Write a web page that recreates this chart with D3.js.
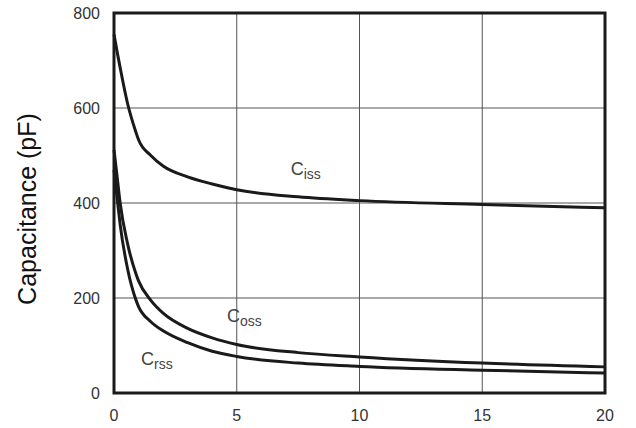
<!DOCTYPE html>
<html>
<head>
<meta charset="utf-8">
<script src="https://cdn.jsdelivr.net/npm/d3@7"></script>
<style>
body { margin: 0; background: #fff; }
text { font-family: "Liberation Sans", Arial, sans-serif; }
</style>
</head>
<body>
<script>
var vdsTicks = [0, 5, 10, 15, 20],
	capTicks = [0, 200, 400, 600, 800];

var vds = [0, 0.15, 0.25, 0.55, 0.9, 1, 1.5, 2, 3, 4, 5, 7.5, 10, 15, 20];
var ciss = [755, 712, 685, 610, 548, 533, 500, 478, 455, 440, 428, 413, 405, 397, 390];
var coss = [512, 445, 400, 315, 250, 236, 195, 168, 136, 116, 102, 85, 76, 63, 55];
var crss = [470, 400, 355, 262, 195, 182, 150, 131, 106, 88, 77, 63, 56, 48, 42];

var labels = [
	{ main: 'C', sub: 'iss', x: 7.2, y: 458 },
	{ main: 'C', sub: 'oss', x: 4.6, y: 150 },
	{ main: 'C', sub: 'rss', x: 1.1, y: 58 }
];

var W = 636, H = 428,
	plotL = 114, plotR = 605, plotT = 13, plotB = 393;

var svg = d3.select('body').append('svg').attr('width', W).attr('height', H);

var x = d3.scaleLinear().domain([0, 20]).range([plotL, plotR]),
	y = d3.scaleLinear().domain([0, 800]).range([plotB, plotT]);

// grid
svg.append('g').selectAll('line').data(vdsTicks.slice(1, -1)).enter().append('line')
	.attr('x1', function(d) { return x(d); }).attr('x2', function(d) { return x(d); })
	.attr('y1', plotT).attr('y2', plotB)
	.attr('stroke', '#555').attr('stroke-width', 1);
svg.append('g').selectAll('line').data(capTicks.slice(1, -1)).enter().append('line')
	.attr('y1', function(d) { return y(d); }).attr('y2', function(d) { return y(d); })
	.attr('x1', plotL).attr('x2', plotR)
	.attr('stroke', '#555').attr('stroke-width', 1);

// curves
var line = d3.line()
	.x(function(d) { return x(d[0]); })
	.y(function(d) { return y(d[1]); })
	.curve(d3.curveMonotoneX);

[ciss, coss, crss].forEach(function(s) {
	svg.append('path')
		.attr('d', line(vds.map(function(v, i) { return [v, s[i]]; })))
		.attr('fill', 'none').attr('stroke', '#1a1a1a').attr('stroke-width', 3);
});

// frame
svg.append('rect').attr('x', plotL).attr('y', plotT)
	.attr('width', plotR - plotL).attr('height', plotB - plotT)
	.attr('fill', 'none').attr('stroke', '#1a1a1a').attr('stroke-width', 3);

// tick labels
svg.append('g').selectAll('text').data(capTicks).enter().append('text')
	.attr('x', 100).attr('y', function(d) { return y(d) + 6; })
	.attr('text-anchor', 'end').attr('font-size', 16).attr('fill', '#333')
	.text(function(d) { return d; });
svg.append('g').selectAll('text').data(vdsTicks).enter().append('text')
	.attr('x', function(d) { return x(d); }).attr('y', 421)
	.attr('text-anchor', 'middle').attr('font-size', 16).attr('fill', '#333')
	.text(function(d) { return d; });

// axis title
svg.append('text')
	.attr('transform', 'translate(36,209) rotate(-90)')
	.attr('text-anchor', 'middle').attr('font-size', 25).attr('fill', '#111')
	.text('Capacitance (pF)');

// curve labels
labels.forEach(function(l) {
	var t = svg.append('text').attr('x', x(l.x)).attr('y', y(l.y))
		.attr('font-size', 18).attr('fill', '#444');
	t.append('tspan').text(l.main);
	t.append('tspan').attr('font-size', 14).attr('dy', 4).text(l.sub);
});
</script>
</body>
</html>
